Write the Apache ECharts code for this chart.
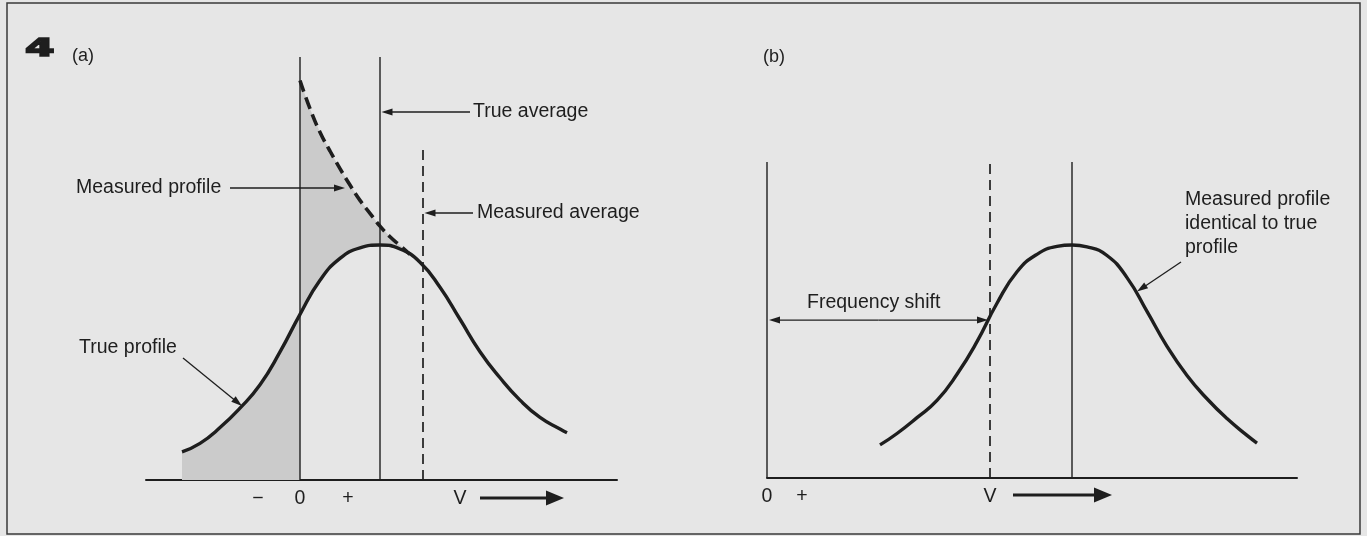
<!DOCTYPE html>
<html>
<head>
<meta charset="utf-8">
<title>Figure 4</title>
<script src="https://cdn.jsdelivr.net/npm/echarts@6.0.0/dist/echarts.min.js"></script>
<style>
html,body{margin:0;padding:0;background:#e6e6e6;}
#main{width:1367px;height:536px;}
</style>
</head>
<body>
<div id="main"></div>
<script>
// (a) true profile: x in velocity units, y in % of peak
const trueA_x = [-11.8, -10, -8, -6, -4, -2, 0, 2, 4, 6, 8, 10, 12, 14, 16, 18, 20, 22, 24, 26, 26.7];
const trueA_y = [12.0, 15.6, 22.3, 30.6, 40.5, 54.5, 70.5, 85.0, 94.3, 98.8, 100, 98.3, 92.7, 82.0, 68.4, 54.6, 43.5, 34.0, 26.6, 21.7, 20.1];
// (a) measured profile where it leaves the true one (dashed)
const measA_x = [0, 1, 2, 3, 4, 5, 6, 7, 8, 9, 10, 11];
const measA_y = [170, 158, 148, 140, 132.5, 125.5, 119, 113.5, 108, 103.5, 99.8, 96.0];
// (a) verticals: zero, true average, measured average
const linesA_x = [0, 8, 12.3];
const linesA_top = [180, 180, 141];
const linesA_dash = [false, false, true];
const ticksA = [-4.2, 0, 4.8, 16];
const tickNamesA = ['\u2212', '0', '+', 'V'];

// (b) profile, measured = true
const trueB_x = [11.3, 13, 15, 17, 19, 21, 23, 25, 27, 29, 30.5, 32, 34, 36, 38, 40, 42, 44, 46, 48, 49];
const trueB_y = [14.2, 19.1, 25.9, 33.3, 44.5, 58.5, 75.0, 88.5, 96.0, 99.4, 100, 99.2, 95.5, 86.0, 71.5, 56.5, 44.0, 34.0, 25.5, 18.3, 15.0];
// (b) verticals: zero, shifted V, profile centre
const linesB_x = [0, 22.3, 30.5];
const linesB_top = [135.6, 135.6, 135.6];
const linesB_dash = [false, true, false];
const ticksB = [0, 3.5, 22.3];
const tickNamesB = ['0', '+', 'V'];

const ink = '#1e1e1e';
const shade = '#cbcbcb';
const fontFam = '"Liberation Sans", Arial, sans-serif';

const pts = (xs, ys) => xs.map((x, i) => [x, ys[i]]);
const trueA = pts(trueA_x, trueA_y);
const measA = pts(measA_x, measA_y);
const trueB = pts(trueB_x, trueB_y);

// shaded areas: folded negative part (left of 0) and gap between measured and true
const leftShade = [[trueA_x[0], 0]].concat(trueA.filter(p => p[0] <= 0), [[0, 0]]);
const foldShade = measA.concat(trueA.filter(p => p[0] >= 0 && p[0] <= 11).reverse());

function vline(x, top, dashed, g) {
  return {
    type: 'line', xAxisIndex: g, yAxisIndex: g,
    data: [[x, 0], [x, top]], symbol: 'none', silent: true, z: 3,
    lineStyle: {color: ink, width: dashed ? 1.7 : 1.4, type: dashed ? [10, 6] : 'solid'}
  };
}

function xAxisOf(g, min, max, ticks, names) {
  return {
    type: 'value', gridIndex: g, min: min, max: max,
    splitLine: {show: false},
    axisTick: {show: false},
    axisLine: {show: true, lineStyle: {color: ink, width: 2}},
    axisLabel: {
      customValues: ticks, margin: 9, color: ink, fontSize: 19.5, fontFamily: fontFam,
      formatter: v => names[ticks.indexOf(v)] || ''
    }
  };
}

const chart = echarts.init(document.getElementById('main'));

const option = {
  backgroundColor: '#e6e6e6',
  animation: false,
  grid: [
    {left: 146, right: 750, top: 57, bottom: 56},
    {left: 767, right: 70, top: 58.6, bottom: 58}
  ],
  xAxis: [
    xAxisOf(0, -15.4, 31.7, ticksA, tickNamesA),
    xAxisOf(1, 0, 53, ticksB, tickNamesB)
  ],
  yAxis: [
    {type: 'value', gridIndex: 0, min: 0, max: 180, show: false},
    {type: 'value', gridIndex: 1, min: 0, max: 180, show: false}
  ],
  series: [
    {
      type: 'custom', xAxisIndex: 0, yAxisIndex: 0, silent: true, z: 1,
      data: [[0, 0], [1, 0]],
      renderItem: (params, api) => {
        const poly = params.dataIndex === 0 ? leftShade : foldShade;
        return {type: 'polygon', shape: {points: poly.map(p => api.coord(p))}, style: {fill: shade}};
      }
    },
    {
      type: 'line', xAxisIndex: 0, yAxisIndex: 0, data: trueA, smooth: 0.5,
      symbol: 'none', silent: true, z: 4, lineStyle: {color: ink, width: 3.4}
    },
    {
      type: 'line', xAxisIndex: 0, yAxisIndex: 0, data: measA, smooth: 0.5,
      symbol: 'none', silent: true, z: 4, lineStyle: {color: ink, width: 3.6, type: [12, 6]}
    },
    {
      type: 'line', xAxisIndex: 1, yAxisIndex: 1, data: trueB, smooth: 0.5,
      symbol: 'none', silent: true, z: 4, lineStyle: {color: ink, width: 3.4}
    }
  ]
    .concat(linesA_x.map((x, i) => vline(x, linesA_top[i], linesA_dash[i], 0)))
    .concat(linesB_x.map((x, i) => vline(x, linesB_top[i], linesB_dash[i], 1)))
};
chart.setOption(option);

// annotations
function label(t, x, y, size, weight) {
  return {
    type: 'text', x: x, y: y, z: 10,
    style: {
      text: t, fill: ink, font: (weight || 'normal') + ' ' + size + 'px ' + fontFam,
      align: 'left', verticalAlign: 'middle', textAlign: 'left', textVerticalAlign: 'middle'
    }
  };
}
function arrow(from, to, w, hl, hw) {
  const dx = to[0] - from[0], dy = to[1] - from[1];
  const L = Math.hypot(dx, dy), ux = dx / L, uy = dy / L;
  const bx = to[0] - ux * hl, by = to[1] - uy * hl;
  return [
    {type: 'line', z: 10, shape: {x1: from[0], y1: from[1], x2: bx + ux, y2: by + uy}, style: {stroke: ink, lineWidth: w}},
    {type: 'polygon', z: 10, shape: {points: [to, [bx - uy * hw / 2, by + ux * hw / 2], [bx + uy * hw / 2, by - ux * hw / 2]]}, style: {fill: ink}}
  ];
}
const toPx = (g, p) => chart.convertToPixel({gridIndex: g}, p);

const xTrueAvg = toPx(0, [linesA_x[1], 0])[0];
const xMeasAvg = toPx(0, [linesA_x[2], 0])[0];
const tipProfA = toPx(0, [4.6, 124.3]);
const tipTrueA = toPx(0, [-5.8, 31.5]);
const vA = toPx(0, [ticksA[3], 0])[0];
const x0B = toPx(1, [linesB_x[0], 0])[0];
const xVB = toPx(1, [linesB_x[1], 0])[0];
const yShift = toPx(1, [0, 67.8])[1];
const tipProfB = toPx(1, [37.0, 80]);
const vB = toPx(1, [ticksB[2], 0])[0];
const midShift = (x0B + xVB) / 2;

const fs = 19.5;
const four = {
  type: 'text', x: 25, y: 49, z: 10, scaleX: 1.7, originX: 0,
  style: {
    text: '4', fill: ink, stroke: ink, lineWidth: 1.6,
    font: 'bold 25px "DejaVu Sans", sans-serif',
    align: 'left', verticalAlign: 'middle', textAlign: 'left', textVerticalAlign: 'middle'
  }
};
const g = [
  {type: 'rect', z: 9, shape: {x: 7, y: 3, width: 1353, height: 531}, style: {fill: null, stroke: '#3a3a3a', lineWidth: 1.5}},
  four,
  label('(a)', 72, 56, 18),
  label('True average', 473, 112, fs),
  label('Measured average', 477, 213, fs),
  label('Measured profile', 76, 188, fs),
  label('True profile', 79, 348, fs),
  label('(b)', 763, 57, 18),
  label('Frequency shift', 807, 303, fs),
  label('Measured profile', 1185, 200, fs),
  label('identical to true', 1185, 224, fs),
  label('profile', 1185, 248, fs)
]
  .concat(arrow([470, 112], [xTrueAvg + 1.5, 112], 1.3, 11, 7))
  .concat(arrow([473, 213], [xMeasAvg + 1.5, 213], 1.3, 11, 7))
  .concat(arrow([230, 188], [tipProfA[0] - 1, 188], 1.3, 11, 7))
  .concat(arrow([183, 358], tipTrueA, 1.3, 11, 7))
  .concat(arrow([vA + 20, 498], [vA + 104, 498], 3, 18, 15))
  .concat(arrow([midShift, yShift], [x0B + 2, yShift], 1.3, 11, 7))
  .concat(arrow([midShift, yShift], [xVB - 2, yShift], 1.3, 11, 7))
  .concat(arrow([1181, 262], tipProfB, 1.3, 11, 7))
  .concat(arrow([vB + 23, 495], [vB + 122, 495], 3, 18, 15));

chart.setOption({graphic: {elements: g}});
</script>
</body>
</html>
